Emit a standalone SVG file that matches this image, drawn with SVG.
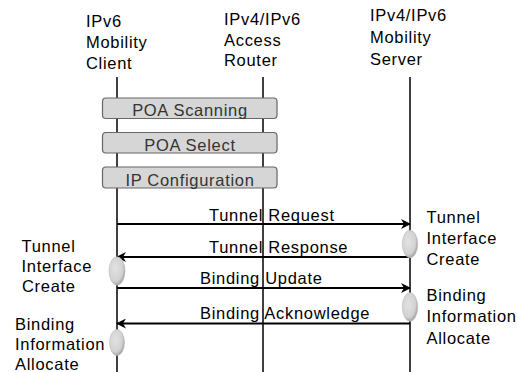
<svg xmlns="http://www.w3.org/2000/svg" width="517" height="372" viewBox="0 0 517 372">
  <defs>
    <marker id="arrow" viewBox="0 0 10 10" refX="9" refY="5" markerWidth="10" markerHeight="10" markerUnits="userSpaceOnUse" orient="auto">
      <path d="M0,0 L10,5 L0,10 L3,5 z" fill="#000"/>
    </marker>
    <radialGradient id="blob" cx="0.4" cy="0.4" r="0.65">
      <stop offset="0" stop-color="#e2e2e2"/>
      <stop offset="0.7" stop-color="#d2d2d2"/>
      <stop offset="1" stop-color="#9a9a9a"/>
    </radialGradient>
  </defs>
  <style>
    text { font-family: "Liberation Sans", Arial, sans-serif; font-size: 16.5px; letter-spacing: 0.7px; fill: #000; }
    .step text { fill: #333; text-anchor: middle; }
    .lifeline { stroke: #000; stroke-width: 1.5; fill: none; }
    .msg { stroke: #000; stroke-width: 2; fill: none; marker-end: url(#arrow); }
    .box { fill: #d6d6d6; stroke: #666; stroke-width: 1.2; }
    .act { fill: url(#blob); stroke: #bbb; stroke-width: 0.6; }
  </style>

  <rect width="517" height="372" fill="#fff"/>

  <!-- participants -->
  <g id="client">
    <text x="86" y="27">IPv6</text>
    <text x="86" y="48">Mobility</text>
    <text x="86" y="69">Client</text>
    <line class="lifeline" x1="117" y1="77" x2="117" y2="372"/>
  </g>
  <g id="router">
    <text x="224" y="25">IPv4/IPv6</text>
    <text x="224" y="45.5">Access</text>
    <text x="224" y="66">Router</text>
    <line class="lifeline" x1="263" y1="77" x2="263" y2="372"/>
  </g>
  <g id="server">
    <text x="370" y="21">IPv4/IPv6</text>
    <text x="370" y="43">Mobility</text>
    <text x="370" y="65">Server</text>
    <line class="lifeline" x1="410" y1="77" x2="410" y2="372"/>
  </g>

  <!-- local steps spanning client and access router -->
  <g id="poa-scanning" class="step">
    <rect class="box" x="102.5" y="98" width="174.5" height="20.5" rx="3.5"/>
    <text x="190" y="115.5">POA Scanning</text>
  </g>
  <g id="poa-select" class="step">
    <rect class="box" x="102.5" y="132.5" width="174.5" height="20.5" rx="3.5"/>
    <text x="190" y="150.5">POA Select</text>
  </g>
  <g id="ip-configuration" class="step">
    <rect class="box" x="102.5" y="167" width="174.5" height="21" rx="3.5"/>
    <text x="190" y="185.5">IP Configuration</text>
  </g>

  <!-- messages -->
  <g id="connectors">
    <line class="msg" x1="117" y1="224" x2="410" y2="224"/>
    <line class="msg" x1="410" y1="257" x2="117" y2="257"/>
    <line class="msg" x1="117" y1="288" x2="410" y2="288"/>
    <line class="msg" x1="410" y1="323.5" x2="117" y2="323.5"/>
    <text x="209" y="220.5">Tunnel Request</text>
    <text x="209" y="252.5">Tunnel Response</text>
    <text x="200" y="284">Binding Update</text>
    <text x="200" y="318.5">Binding Acknowledge</text>
  </g>

  <!-- server-side actions -->
  <g id="server-tunnel-create">
    <ellipse class="act" cx="410" cy="244" rx="7.7" ry="13.8"/>
    <text x="426.5" y="222.5">Tunnel</text>
    <text x="426.5" y="244">Interface</text>
    <text x="426.5" y="265">Create</text>
  </g>
  <g id="server-binding-allocate">
    <ellipse class="act" cx="410" cy="307" rx="7.7" ry="14.3"/>
    <text x="426.5" y="300.5">Binding</text>
    <text x="426.5" y="322">Information</text>
    <text x="426.5" y="343.5">Allocate</text>
  </g>

  <!-- client-side actions -->
  <g id="client-tunnel-create">
    <ellipse class="act" cx="117" cy="271" rx="8" ry="14.2"/>
    <text x="21.5" y="251.5">Tunnel</text>
    <text x="21.5" y="271.5">Interface</text>
    <text x="22" y="291.5">Create</text>
  </g>
  <g id="client-binding-allocate">
    <ellipse class="act" cx="117" cy="342.5" rx="7.5" ry="13"/>
    <text x="15" y="329.5">Binding</text>
    <text x="15" y="350">Information</text>
    <text x="15" y="369.5">Allocate</text>
  </g>
</svg>
